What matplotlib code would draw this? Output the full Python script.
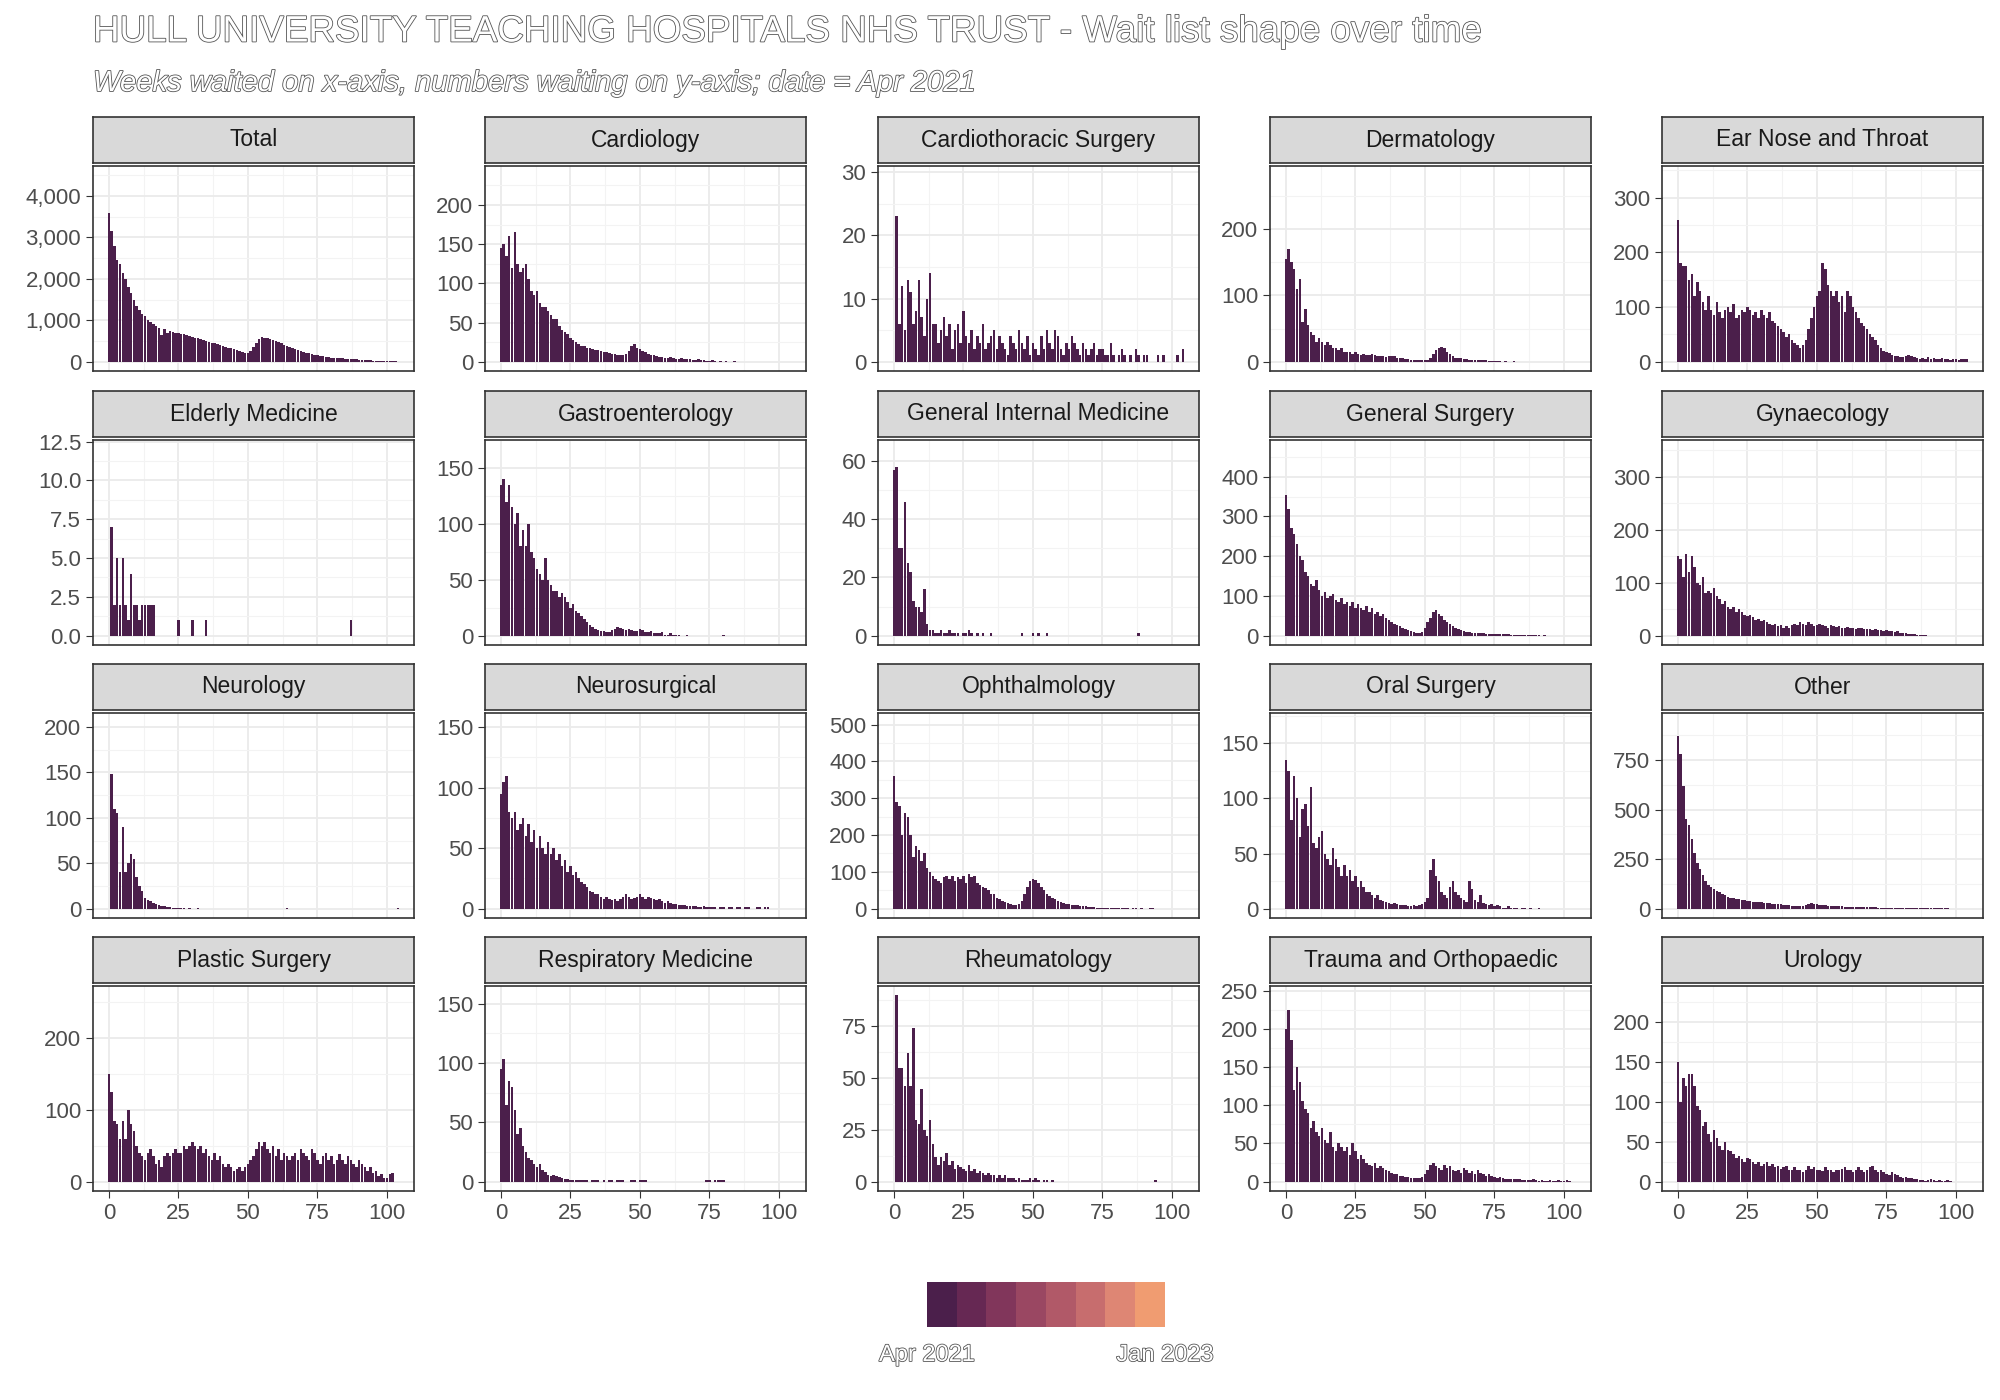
import matplotlib.pyplot as plt
import matplotlib.patheffects as pe
from matplotlib.ticker import FuncFormatter, MultipleLocator
import numpy as np

plt.rcParams['font.family'] = ['Liberation Sans', 'DejaVu Sans']

specialties = ["Total", "Cardiology", "Cardiothoracic Surgery", "Dermatology", "Ear Nose and Throat",
               "Elderly Medicine", "Gastroenterology", "General Internal Medicine", "General Surgery", "Gynaecology",
               "Neurology", "Neurosurgical", "Ophthalmology", "Oral Surgery", "Other",
               "Plastic Surgery", "Respiratory Medicine", "Rheumatology", "Trauma and Orthopaedic", "Urology"]

# weekly counts, week 0 onward
total = [3600, 3150, 2800, 2450, 2350, 2150, 2000, 1800, 1650, 1500, 1350, 1250, 1150, 1100, 1000, 950, 900, 850,
         820, 640, 780, 700, 740, 720, 690, 700, 680, 660, 640, 620, 600, 580, 560, 540, 520, 500, 480, 460, 440, 420,
         400, 380, 360, 340, 320, 300, 280, 260, 240, 220, 200, 260, 350, 450, 550, 600, 580, 560, 540, 520, 500,
         470, 440, 410, 380, 350, 320, 300, 280, 260, 240, 220, 200, 180, 160, 150, 140, 130, 120, 110, 100, 95, 90,
         85, 80, 75, 70, 65, 60, 55, 50, 45, 40, 35, 30, 25, 20, 18, 16, 14, 12, 10, 8, 6, 4]
cardiology = [145, 150, 135, 160, 120, 165, 125, 115, 120, 125, 105, 90, 85, 90, 75, 70, 70, 65, 60, 55, 55, 45, 40,
              38, 35, 30, 28, 25, 22, 20, 20, 18, 18, 16, 15, 15, 14, 12, 12, 11, 10, 10, 9, 9, 8, 10, 14, 20, 22,
              18, 16, 14, 12, 10, 8, 8, 7, 6, 6, 5, 5, 6, 5, 4, 4, 5, 3, 3, 4, 2, 2, 3, 2, 2, 1, 1, 2, 1, 0, 1, 0,
              1, 0, 0, 1]
cardiothoracic = [0, 23, 6, 12, 5, 13, 11, 6, 8, 13, 7, 4, 10, 14, 6, 6, 3, 5, 7, 4, 6, 2, 5, 6, 3, 8, 4, 3, 5, 2, 4,
                  3, 6, 2, 3, 4, 5, 2, 4, 3, 2, 1, 4, 3, 2, 5, 3, 2, 4, 1, 3, 2, 1, 4, 2, 5, 3, 2, 5, 4, 2, 1, 3, 2,
                  4, 3, 2, 1, 3, 2, 1, 2, 3, 1, 2, 2, 1, 1, 3, 1, 0, 1, 2, 1, 0, 1, 0, 2, 1, 0, 1, 1, 0, 0, 0, 1, 0,
                  1, 0, 0, 0, 0, 1, 0, 2]
dermatology = [155, 170, 150, 140, 110, 125, 60, 80, 55, 45, 40, 30, 35, 30, 25, 30, 25, 20, 20, 18, 20, 15, 15, 14,
               12, 15, 12, 10, 12, 10, 10, 12, 10, 8, 8, 9, 7, 8, 8, 9, 6, 5, 5, 4, 4, 3, 3, 2, 3, 3, 2, 3, 6, 12,
               18, 20, 22, 20, 15, 12, 8, 6, 5, 5, 4, 4, 3, 3, 3, 2, 2, 2, 2, 1, 1, 1, 1, 1, 0, 1, 0, 0, 1]
ent = [260, 180, 175, 175, 150, 160, 120, 145, 130, 110, 95, 120, 95, 85, 110, 90, 80, 95, 100, 90, 105, 80, 85, 95,
       90, 100, 95, 85, 90, 80, 95, 85, 80, 90, 75, 70, 65, 60, 55, 45, 50, 40, 35, 30, 25, 30, 40, 60, 80, 100, 120,
       130, 180, 170, 140, 130, 120, 130, 110, 120, 90, 130, 120, 100, 90, 80, 70, 65, 60, 50, 45, 40, 30, 25, 20,
       18, 15, 12, 10, 10, 8, 8, 10, 12, 10, 8, 6, 5, 6, 4, 8, 5, 6, 5, 4, 6, 5, 4, 3, 5, 4, 3, 4, 5, 4]
elderly = [0, 7, 2, 5, 2, 5, 2, 1, 4, 2, 2, 1, 2, 2, 2, 2, 2, 0, 0, 0, 0, 0, 0, 0, 0, 1, 0, 0, 0, 0, 1, 0, 0, 0, 0, 1,
           0, 0, 0, 0, 0, 0, 0, 0, 0, 0, 0, 0, 0, 0, 0, 0, 0, 0, 0, 0, 0, 0, 0, 0, 0, 0, 0, 0, 0, 0, 0, 0, 0, 0, 0,
           0, 0, 0, 0, 0, 0, 0, 0, 0, 0, 0, 0, 0, 0, 0, 0, 1]
gastro = [135, 140, 120, 135, 115, 100, 110, 80, 95, 80, 100, 75, 70, 60, 55, 50, 70, 50, 45, 40, 40, 35, 38, 35, 30,
          25, 28, 22, 20, 18, 15, 12, 10, 8, 6, 5, 4, 4, 3, 3, 5, 6, 8, 7, 6, 5, 6, 5, 4, 4, 6, 5, 3, 3, 4, 2, 2, 2,
          3, 1, 1, 2, 1, 1, 1, 0, 0, 1, 0, 0, 0, 0, 0, 0, 0, 0, 0, 0, 0, 0, 1]
gim = [57, 58, 30, 30, 46, 25, 22, 12, 10, 10, 8, 16, 4, 2, 2, 1, 1, 2, 1, 1, 2, 1, 1, 1, 0, 1, 1, 2, 1, 0, 1, 0, 1,
       0, 0, 1, 0, 0, 0, 0, 0, 0, 0, 0, 0, 0, 1, 0, 0, 0, 1, 0, 1, 0, 0, 1, 0, 0, 0, 0, 0, 0, 0, 0, 0, 0, 0, 0, 0,
       0, 0, 0, 0, 0, 0, 0, 0, 0, 0, 0, 0, 0, 0, 0, 0, 0, 0, 0, 1]
gen_surgery = [355, 320, 270, 255, 230, 200, 190, 160, 150, 130, 125, 140, 115, 100, 110, 95, 100, 105, 90, 85, 95,
               80, 85, 75, 85, 70, 80, 70, 65, 75, 60, 70, 55, 60, 50, 55, 45, 40, 35, 30, 28, 25, 20, 18, 15, 12,
               10, 8, 8, 10, 20, 35, 45, 60, 65, 55, 50, 40, 35, 30, 25, 20, 18, 15, 12, 10, 10, 8, 8, 7, 6, 6, 5,
               5, 5, 4, 4, 3, 3, 3, 3, 2, 2, 2, 2, 1, 1, 2, 1, 1, 1, 1, 0, 1]
gynae = [150, 145, 110, 155, 120, 150, 130, 100, 95, 110, 80, 85, 80, 90, 75, 70, 60, 65, 55, 50, 55, 45, 50, 45, 40,
         38, 40, 35, 30, 32, 28, 30, 25, 22, 20, 22, 18, 20, 15, 18, 15, 20, 22, 20, 25, 22, 20, 25, 22, 18, 20, 22,
         20, 18, 15, 20, 18, 16, 18, 15, 14, 16, 15, 14, 12, 15, 14, 12, 13, 12, 10, 12, 11, 10, 8, 10, 9, 8, 7, 8,
         6, 5, 5, 4, 3, 3, 2, 2, 1, 1]
neurology = [0, 148, 110, 105, 40, 90, 40, 50, 60, 55, 35, 25, 20, 12, 10, 8, 6, 5, 4, 3, 3, 2, 2, 1, 1, 1, 1, 1, 0,
             1, 0, 0, 1, 0, 0, 0, 0, 0, 0, 0, 0, 0, 0, 0, 0, 0, 0, 0, 0, 0, 0, 0, 0, 0, 0, 0, 0, 0, 0, 0, 0, 0, 0,
             0, 1, 0, 0, 0, 0, 0, 0, 0, 0, 0, 0, 0, 0, 0, 0, 0, 0, 0, 0, 0, 0, 0, 0, 0, 0, 0, 0, 0, 0, 0, 0, 0, 0,
             0, 0, 0, 0, 0, 0, 0, 1]
neurosurgical = [95, 105, 110, 80, 75, 80, 65, 70, 75, 60, 70, 55, 65, 50, 60, 50, 45, 55, 45, 50, 40, 45, 35, 40,
                 30, 35, 28, 30, 25, 22, 20, 18, 15, 14, 12, 12, 10, 8, 10, 8, 7, 8, 6, 8, 10, 12, 10, 8, 9, 10, 12,
                 10, 8, 10, 9, 8, 7, 8, 6, 5, 6, 5, 4, 4, 3, 3, 3, 2, 2, 2, 2, 1, 1, 2, 1, 1, 1, 1, 0, 1, 1, 0, 1,
                 1, 0, 1, 1, 0, 1, 1, 0, 0, 1, 1, 0, 1, 1]
ophthalmology = [360, 290, 280, 200, 260, 250, 200, 140, 170, 160, 130, 150, 110, 100, 90, 80, 75, 70, 85, 90, 80,
                 90, 75, 85, 80, 90, 70, 95, 85, 90, 70, 65, 60, 55, 50, 40, 40, 30, 25, 20, 18, 15, 12, 10, 10, 12,
                 20, 40, 60, 75, 80, 78, 70, 60, 50, 40, 35, 30, 25, 20, 18, 15, 14, 12, 10, 10, 9, 8, 7, 6, 5, 5, 4,
                 3, 3, 2, 2, 1, 1, 1, 1, 2, 1, 1, 1, 0, 1, 1, 0, 1, 0, 0, 1, 1]
oral = [135, 125, 80, 120, 100, 65, 90, 95, 75, 110, 60, 55, 65, 70, 50, 45, 40, 55, 45, 38, 30, 40, 30, 35, 25, 30,
        20, 25, 20, 15, 15, 12, 10, 12, 8, 7, 6, 5, 4, 5, 4, 3, 3, 3, 2, 2, 3, 2, 3, 4, 6, 10, 35, 45, 30, 25, 15, 12,
        10, 20, 25, 15, 12, 10, 8, 6, 25, 18, 8, 6, 12, 5, 4, 3, 4, 2, 3, 2, 1, 1, 2, 1, 1, 1, 0, 1, 1, 0, 1, 0, 0, 1]
other = [870, 780, 620, 450, 420, 350, 280, 230, 200, 170, 140, 120, 110, 100, 90, 85, 75, 70, 60, 55, 55, 50, 48, 45,
         42, 40, 38, 36, 35, 34, 32, 30, 28, 27, 26, 25, 24, 22, 20, 20, 18, 16, 15, 14, 12, 12, 20, 25, 28, 25, 22,
         20, 18, 17, 16, 15, 14, 13, 12, 12, 11, 11, 10, 10, 9, 9, 8, 8, 7, 7, 6, 6, 5, 5, 4, 4, 4, 3, 3, 3, 2, 2, 2,
         2, 1, 1, 1, 1, 2, 1, 1, 2, 1, 1, 2, 1, 1, 1]
plastic = [150, 125, 85, 80, 60, 85, 60, 100, 80, 70, 50, 40, 35, 30, 40, 45, 35, 25, 30, 20, 35, 40, 35, 40, 45, 40,
           40, 50, 45, 50, 55, 50, 45, 50, 40, 45, 35, 30, 40, 30, 35, 25, 20, 25, 20, 15, 18, 20, 15, 20, 25, 30, 35,
           45, 55, 50, 55, 45, 40, 50, 35, 45, 30, 40, 35, 30, 35, 40, 30, 45, 40, 35, 30, 45, 40, 30, 25, 35, 40, 30,
           35, 25, 30, 38, 30, 25, 35, 30, 25, 20, 30, 25, 20, 15, 20, 12, 15, 8, 10, 5, 5, 10, 12]
respiratory = [95, 103, 65, 85, 80, 60, 40, 45, 30, 25, 20, 18, 15, 12, 15, 10, 8, 6, 5, 6, 5, 4, 3, 2, 2, 1, 1, 1,
               1, 1, 1, 1, 0, 1, 1, 1, 0, 1, 0, 1, 1, 0, 1, 1, 1, 0, 0, 1, 1, 0, 1, 1, 1, 0, 0, 0, 0, 0, 0, 0, 0, 0,
               0, 0, 0, 0, 0, 0, 0, 0, 0, 0, 0, 0, 1, 1, 0, 1, 1, 1, 1]
rheumatology = [0, 90, 55, 55, 46, 62, 46, 74, 30, 28, 45, 25, 22, 30, 18, 12, 8, 12, 10, 14, 8, 10, 6, 8, 7, 6, 5, 8,
                5, 6, 4, 5, 4, 3, 4, 3, 3, 2, 3, 2, 3, 2, 2, 2, 1, 2, 1, 1, 1, 2, 1, 2, 1, 0, 1, 1, 0, 1, 0, 0, 0, 0,
                0, 0, 0, 0, 0, 0, 0, 0, 0, 0, 0, 0, 0, 0, 0, 0, 0, 0, 0, 0, 0, 0, 0, 0, 0, 0, 0, 0, 0, 0, 0, 0, 1]
trauma = [200, 225, 185, 120, 150, 130, 105, 95, 90, 70, 80, 65, 60, 70, 55, 50, 65, 45, 40, 50, 45, 40, 45, 35, 50,
          40, 30, 35, 30, 25, 22, 20, 25, 18, 20, 18, 15, 14, 12, 10, 10, 8, 8, 6, 6, 5, 5, 5, 5, 6, 10, 15, 22, 25,
          20, 18, 15, 22, 18, 20, 15, 14, 15, 12, 18, 15, 12, 14, 10, 15, 12, 10, 8, 10, 8, 6, 5, 6, 5, 4, 4, 4, 3,
          3, 3, 2, 2, 2, 2, 3, 2, 1, 2, 1, 1, 2, 1, 1, 2, 1, 1, 2, 1]
urology = [150, 100, 130, 120, 135, 135, 120, 95, 90, 70, 75, 60, 50, 65, 55, 45, 40, 50, 40, 38, 35, 30, 32, 28, 25,
           30, 28, 25, 22, 25, 20, 22, 24, 20, 22, 18, 20, 16, 18, 20, 15, 14, 18, 15, 14, 12, 15, 20, 16, 18, 15,
           14, 13, 18, 15, 14, 12, 15, 14, 16, 18, 15, 14, 12, 15, 18, 14, 12, 15, 18, 20, 15, 12, 14, 12, 10, 8, 12,
           10, 8, 6, 5, 6, 4, 5, 3, 3, 2, 2, 1, 2, 3, 2, 1, 2, 1, 1, 2, 1]

series = [total, cardiology, cardiothoracic, dermatology, ent, elderly, gastro, gim, gen_surgery, gynae,
          neurology, neurosurgical, ophthalmology, oral, other, plastic, respiratory, rheumatology, trauma, urology]
# free y-scale maxima (over all months of the animation)
scale_max = [4500, 238, 29.5, 281, 341, 12, 167, 64, 469, 352,
             205, 154, 506, 169, 940, 259, 157, 90, 244, 233]
y_steps = [1000, 50, 10, 100, 100, 2.5, 50, 20, 100, 100,
           50, 50, 100, 50, 250, 100, 50, 25, 50, 50]

legend_labels = ["Apr 2021", "Jan 2023"]
legend_colors = ["#4b1f4b", "#662853", "#81365b", "#9a4762", "#b15968", "#c76d6e", "#de8674", "#f09c71"]
bar_color = "#4b1f4b"

W, H = 2000, 1400
fig = plt.figure(figsize=(20, 14), dpi=100)
col_left = [93, 485, 878, 1270, 1662]
row_top = [166, 440, 713, 986]
pw, ph = 321, 205
sh, gap = 46, 3

outline = [pe.Stroke(linewidth=1.2, foreground="#555555"), pe.Normal()]

for i, (name, vals) in enumerate(zip(specialties, series)):
    r, c = divmod(i, 5)
    x0, y0 = col_left[c], row_top[r]
    ax = fig.add_axes([x0 / W, 1 - (y0 + ph) / H, pw / W, ph / H])
    weeks = np.arange(len(vals))
    ax.bar(weeks, vals, width=0.9, color=bar_color, linewidth=0)
    m = scale_max[i]
    ax.set_xlim(-5.7, 109.7)
    ax.set_ylim(-0.05 * m, 1.05 * m)
    ax.xaxis.set_major_locator(MultipleLocator(25))
    ax.xaxis.set_minor_locator(MultipleLocator(12.5))
    ax.yaxis.set_major_locator(MultipleLocator(y_steps[i]))
    ax.yaxis.set_minor_locator(MultipleLocator(y_steps[i] / 2))
    if name == "Total":
        ax.yaxis.set_major_formatter(FuncFormatter(lambda v, p: f"{int(v):,}"))
    elif name == "Elderly Medicine":
        ax.yaxis.set_major_formatter(FuncFormatter(lambda v, p: f"{v:.1f}"))
    else:
        ax.yaxis.set_major_formatter(FuncFormatter(lambda v, p: f"{int(v)}"))
    ax.grid(which="major", color="#ebebeb", linewidth=1.3)
    ax.grid(which="minor", color="#f3f3f3", linewidth=0.8)
    ax.set_axisbelow(True)
    for s in ax.spines.values():
        s.set_color("#333333")
        s.set_linewidth(1.2)
    ax.tick_params(which="major", labelsize=16, labelcolor="#4d4d4d", color="#333333", length=5)
    ax.tick_params(which="minor", length=0)
    if r < 3:
        ax.tick_params(axis="x", labelbottom=False, length=0)
    # strip
    sax = fig.add_axes([x0 / W, 1 - (y0 - gap) / H, pw / W, sh / H])
    sax.set_facecolor("#d9d9d9")
    sax.set_xticks([])
    sax.set_yticks([])
    for s in sax.spines.values():
        s.set_color("#333333")
        s.set_linewidth(1.2)
    sax.text(0.5, 0.5, name, ha="center", va="center", fontsize=16.5, color="#1a1a1a", transform=sax.transAxes)

fig.text(93 / W, 1 - 32 / H, "HULL UNIVERSITY TEACHING HOSPITALS NHS TRUST - Wait list shape over time",
         fontsize=26.5, color="white", va="center", path_effects=outline)
fig.text(93 / W, 1 - 83 / H, "Weeks waited on x-axis, numbers waiting on y-axis; date = Apr 2021",
         fontsize=21, color="white", style="italic", va="center", path_effects=outline)

# legend colour bar
lax = fig.add_axes([927 / W, 1 - 1327 / H, 238 / W, 45 / H])
lax.imshow(np.arange(len(legend_colors))[None, :], aspect="auto",
           cmap=plt.matplotlib.colors.ListedColormap(legend_colors))
lax.axis("off")
fig.text(927 / W, 1 - 1355 / H, legend_labels[0], fontsize=17, color="white", ha="center", va="center",
         path_effects=outline)
fig.text(1165 / W, 1 - 1355 / H, legend_labels[1], fontsize=17, color="white", ha="center", va="center",
         path_effects=outline)

fig.savefig("out.png", dpi=100, facecolor="white")
